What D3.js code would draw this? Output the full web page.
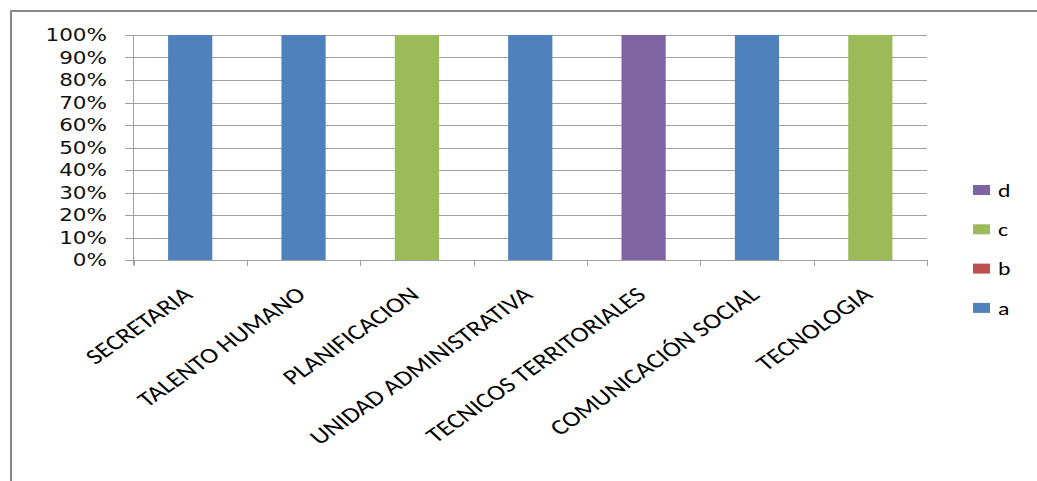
<!DOCTYPE html>
<html><head><meta charset="utf-8">
<script src="https://cdn.jsdelivr.net/npm/d3@7"></script>
<style>
html,body{margin:0;padding:0;background:#fff;}
svg{display:block;}
</style></head>
<body>
<svg id="chart" width="1037" height="481"></svg>
<script>
const categories = ["SECRETARIA","TALENTO HUMANO","PLANIFICACION","UNIDAD ADMINISTRATIVA","TECNICOS TERRITORIALES","COMUNICACIÓN SOCIAL","TECNOLOGIA"];
const seriesNames = ["a","b","c","d"];
const seriesA = [100,100,0,100,0,100,0];
const seriesB = [0,0,0,0,0,0,0];
const seriesC = [0,0,100,0,0,0,100];
const seriesD = [0,0,0,0,100,0,0];
const seriesColors = ["#4F81BD","#C0504D","#9BBB59","#8064A2"];
const yTicks = [0,0.1,0.2,0.3,0.4,0.5,0.6,0.7,0.8,0.9,1];

(function(){
const rows = categories.map((c,i)=>({cat:c,a:seriesA[i],b:seriesB[i],c:seriesC[i],d:seriesD[i]}));
const stacked = d3.stack().keys(seriesNames).offset(d3.stackOffsetExpand)(rows);

const svg = d3.select("#chart");
svg.append("path").attr("d","M11,482 L11,11 L1040,11").attr("fill","none").attr("stroke","#888").attr("stroke-width",2);

const pLeft=133.5, pRight=927, pTop=35, pBottom=260;
const x = d3.scaleBand().domain(categories).range([pLeft,pRight]).paddingInner(0.61).paddingOuter(0.305);
const xb = d3.scaleBand().domain(categories).range([pLeft,pRight]);
const y = d3.scaleLinear().domain([0,1]).range([pBottom,pTop]);

svg.append("g").selectAll("line").data(yTicks).join("line")
  .attr("x1",125).attr("x2",pRight).attr("y1",d=>Math.round(y(d))+0.5).attr("y2",d=>Math.round(y(d))+0.5)
  .attr("stroke","#a0a0a0").attr("stroke-width",1);

svg.append("g").selectAll("g").data(stacked).join("g")
  .attr("fill",(d,i)=>seriesColors[i])
  .selectAll("rect").data(d=>d).join("rect")
  .attr("x",d=>x(d.data.cat)).attr("width",x.bandwidth())
  .attr("y",d=>y(d[1])).attr("height",d=>Math.max(0,y(d[0])-y(d[1])));

svg.append("line").attr("x1",pLeft).attr("x2",pLeft).attr("y1",pTop).attr("y2",pBottom+5).attr("stroke","#a0a0a0");
const xt = categories.map(c=>xb(c)).concat([pRight]);
svg.append("g").selectAll("line").data(xt).join("line")
  .attr("x1",d=>Math.round(d)+0.5).attr("x2",d=>Math.round(d)+0.5).attr("y1",pBottom).attr("y2",pBottom+6).attr("stroke","#a0a0a0");

svg.append("g").selectAll("text").data(yTicks).join("text")
  .attr("transform",d=>`translate(107,${y(d)}) scale(1.23,1)`)
  .attr("text-anchor","end").attr("dy","0.36em")
  .attr("font-family","DejaVu Sans, Verdana, sans-serif").attr("font-size",17.5).attr("fill","#111")
  .text(d=>d3.format(".0%")(d));

svg.append("g").selectAll("text").data(categories).join("text")
  .attr("transform",d=>`translate(${xb(d)+xb.bandwidth()/2-9},285) scale(1.25,1) rotate(-41)`)
  .attr("text-anchor","end").attr("dy","0.72em")
  .attr("font-family","Carlito, Calibri, Lato, sans-serif").attr("font-size",21.5).attr("fill","#000")
  .text(d=>d);

const legendOrder = seriesNames.slice().reverse();
const lg = svg.append("g").selectAll("g").data(legendOrder).join("g")
  .attr("transform",(d,i)=>`translate(973,${185+i*39.3})`);
lg.append("rect").attr("width",17).attr("height",10).attr("fill",d=>seriesColors[seriesNames.indexOf(d)]);
lg.append("text").attr("transform","translate(25,5) scale(1.25,1)").attr("dy","0.35em")
  .attr("font-family","Carlito, Calibri, Lato, sans-serif").attr("font-size",19).attr("fill","#000")
  .text(d=>d);
})();
</script>
</body></html>
